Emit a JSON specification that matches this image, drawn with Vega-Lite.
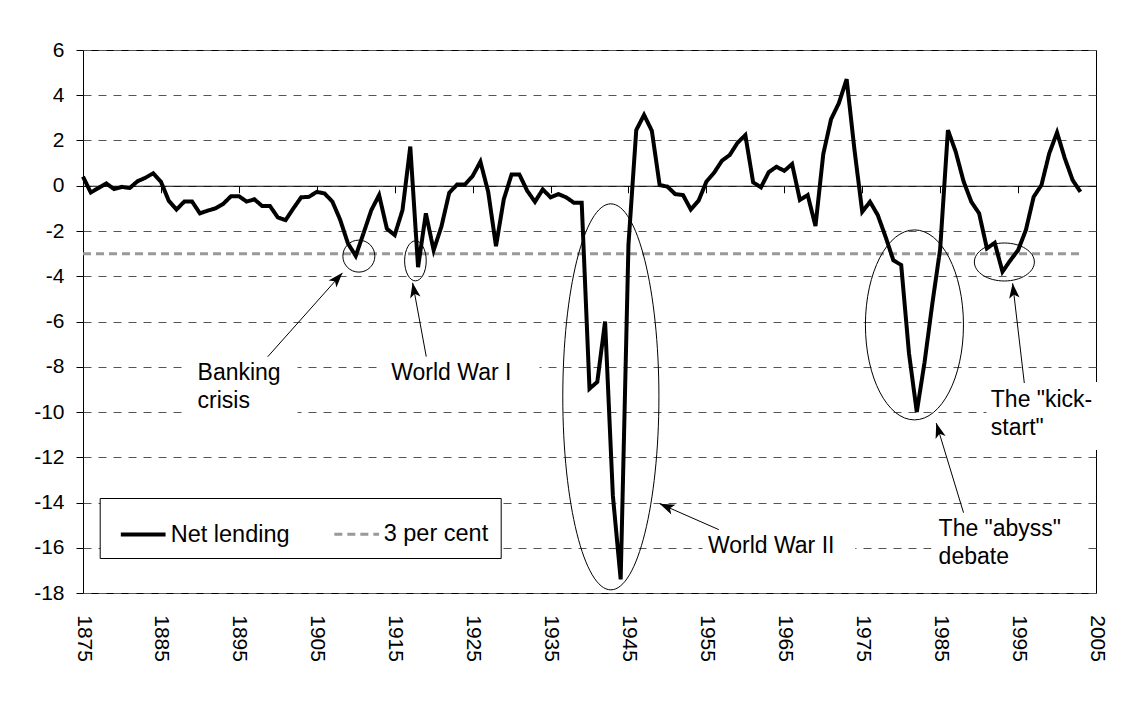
{
  "$schema": "https://vega.github.io/schema/vega-lite/v6.json",
  "width": 1013,
  "height": 543,
  "autosize": {"type": "none"},
  "padding": {"left": 83, "top": 50, "right": 39, "bottom": 122},
  "background": "white",
  "config": {"view": {"stroke": "#000", "strokeWidth": 1}, "font": "Liberation Sans"},
  "datasets": {
    "main": [
      {"year":1875,"net":0.4,"pct":-3},{"year":1876,"net":-0.3,"pct":-3},{"year":1877,"net":-0.1,"pct":-3},{"year":1878,"net":0.1,"pct":-3},{"year":1879,"net":-0.15,"pct":-3},
      {"year":1880,"net":-0.05,"pct":-3},{"year":1881,"net":-0.1,"pct":-3},{"year":1882,"net":0.2,"pct":-3},{"year":1883,"net":0.35,"pct":-3},{"year":1884,"net":0.55,"pct":-3},
      {"year":1885,"net":0.18,"pct":-3},{"year":1886,"net":-0.66,"pct":-3},{"year":1887,"net":-1.05,"pct":-3},{"year":1888,"net":-0.7,"pct":-3},{"year":1889,"net":-0.7,"pct":-3},
      {"year":1890,"net":-1.22,"pct":-3},{"year":1891,"net":-1.1,"pct":-3},{"year":1892,"net":-1.0,"pct":-3},{"year":1893,"net":-0.8,"pct":-3},{"year":1894,"net":-0.46,"pct":-3},
      {"year":1895,"net":-0.46,"pct":-3},{"year":1896,"net":-0.7,"pct":-3},{"year":1897,"net":-0.6,"pct":-3},{"year":1898,"net":-0.9,"pct":-3},{"year":1899,"net":-0.9,"pct":-3},
      {"year":1900,"net":-1.4,"pct":-3},{"year":1901,"net":-1.52,"pct":-3},{"year":1902,"net":-1.0,"pct":-3},{"year":1903,"net":-0.51,"pct":-3},{"year":1904,"net":-0.49,"pct":-3},
      {"year":1905,"net":-0.27,"pct":-3},{"year":1906,"net":-0.34,"pct":-3},{"year":1907,"net":-0.7,"pct":-3},{"year":1908,"net":-1.5,"pct":-3},{"year":1909,"net":-2.55,"pct":-3},
      {"year":1910,"net":-3.1,"pct":-3},{"year":1911,"net":-2.1,"pct":-3},{"year":1912,"net":-1.08,"pct":-3},{"year":1913,"net":-0.41,"pct":-3},{"year":1914,"net":-1.9,"pct":-3},
      {"year":1915,"net":-2.18,"pct":-3},{"year":1916,"net":-1.08,"pct":-3},{"year":1917,"net":1.73,"pct":-3},{"year":1918,"net":-3.6,"pct":-3},{"year":1919,"net":-1.22,"pct":-3},
      {"year":1920,"net":-2.85,"pct":-3},{"year":1921,"net":-1.8,"pct":-3},{"year":1922,"net":-0.31,"pct":-3},{"year":1923,"net":0.05,"pct":-3},{"year":1924,"net":0.05,"pct":-3},
      {"year":1925,"net":0.43,"pct":-3},{"year":1926,"net":1.06,"pct":-3},{"year":1927,"net":-0.27,"pct":-3},{"year":1928,"net":-2.67,"pct":-3},{"year":1929,"net":-0.6,"pct":-3},
      {"year":1930,"net":0.5,"pct":-3},{"year":1931,"net":0.5,"pct":-3},{"year":1932,"net":-0.22,"pct":-3},{"year":1933,"net":-0.71,"pct":-3},{"year":1934,"net":-0.16,"pct":-3},
      {"year":1935,"net":-0.51,"pct":-3},{"year":1936,"net":-0.37,"pct":-3},{"year":1937,"net":-0.51,"pct":-3},{"year":1938,"net":-0.75,"pct":-3},{"year":1939,"net":-0.75,"pct":-3},
      {"year":1940,"net":-8.97,"pct":-3},{"year":1941,"net":-8.67,"pct":-3},{"year":1942,"net":-6.0,"pct":-3},{"year":1943,"net":-13.7,"pct":-3},{"year":1944,"net":-17.4,"pct":-3},
      {"year":1945,"net":-2.6,"pct":-3},{"year":1946,"net":2.46,"pct":-3},{"year":1947,"net":3.13,"pct":-3},{"year":1948,"net":2.43,"pct":-3},{"year":1949,"net":0.03,"pct":-3},
      {"year":1950,"net":-0.04,"pct":-3},{"year":1951,"net":-0.37,"pct":-3},{"year":1952,"net":-0.41,"pct":-3},{"year":1953,"net":-1.05,"pct":-3},{"year":1954,"net":-0.66,"pct":-3},
      {"year":1955,"net":0.18,"pct":-3},{"year":1956,"net":0.58,"pct":-3},{"year":1957,"net":1.11,"pct":-3},{"year":1958,"net":1.36,"pct":-3},{"year":1959,"net":1.9,"pct":-3},
      {"year":1960,"net":2.24,"pct":-3},{"year":1961,"net":0.15,"pct":-3},{"year":1962,"net":-0.07,"pct":-3},{"year":1963,"net":0.6,"pct":-3},{"year":1964,"net":0.84,"pct":-3},
      {"year":1965,"net":0.66,"pct":-3},{"year":1966,"net":0.96,"pct":-3},{"year":1967,"net":-0.63,"pct":-3},{"year":1968,"net":-0.41,"pct":-3},{"year":1969,"net":-1.78,"pct":-3},
      {"year":1970,"net":1.4,"pct":-3},{"year":1971,"net":2.94,"pct":-3},{"year":1972,"net":3.65,"pct":-3},{"year":1973,"net":4.71,"pct":-3},{"year":1974,"net":1.6,"pct":-3},
      {"year":1975,"net":-1.15,"pct":-3},{"year":1976,"net":-0.71,"pct":-3},{"year":1977,"net":-1.3,"pct":-3},{"year":1978,"net":-2.26,"pct":-3},{"year":1979,"net":-3.3,"pct":-3},
      {"year":1980,"net":-3.5,"pct":-3},{"year":1981,"net":-7.4,"pct":-3},{"year":1982,"net":-10.0,"pct":-3},{"year":1983,"net":-7.8,"pct":-3},{"year":1984,"net":-5.2,"pct":-3},
      {"year":1985,"net":-2.8,"pct":-3},{"year":1986,"net":2.46,"pct":-3},{"year":1987,"net":1.5,"pct":-3},{"year":1988,"net":0.2,"pct":-3},{"year":1989,"net":-0.71,"pct":-3},
      {"year":1990,"net":-1.22,"pct":-3},{"year":1991,"net":-2.77,"pct":-3},{"year":1992,"net":-2.52,"pct":-3},{"year":1993,"net":-3.8,"pct":-3},{"year":1994,"net":-3.3,"pct":-3},
      {"year":1995,"net":-2.85,"pct":-3},{"year":1996,"net":-1.96,"pct":-3},{"year":1997,"net":-0.49,"pct":-3},{"year":1998,"net":0.03,"pct":-3},{"year":1999,"net":1.43,"pct":-3},
      {"year":2000,"net":2.35,"pct":-3},{"year":2001,"net":1.21,"pct":-3},{"year":2002,"net":0.25,"pct":-3},{"year":2003,"net":-0.27,"pct":-3}
    ],
    "labels": [
      {"t":"Banking\ncrisis","year":1889.7,"v":-8.58},
      {"t":"World War I","year":1914.56,"v":-8.58},
      {"t":"World War II","year":1955.2,"v":-16.23},
      {"t":"The \"abyss\"\ndebate","year":1984.8,"v":-15.5},
      {"t":"The \"kick-\nstart\"","year":1991.5,"v":-9.76}
    ],
    "boxes": [
      {"b":"bank","year":1888.43,"year2":1902.54,"v":-6.81,"v2":-10.57},
      {"b":"ww1","year":1913.45,"year2":1933.59,"v":-7.03,"v2":-9.46},
      {"b":"ww2","year":1954.5,"year2":1974.1,"v":-14.98,"v2":-17.32},
      {"b":"abyss","year":1983.87,"year2":2003.75,"v":-14.32,"v2":-17.32},
      {"b":"kick","year":1990.93,"year2":2005.4,"v":-8.67,"v2":-11.68}
    ],
    "ellipses": [
      {"e":"bank","year":1910.4,"v":-3.11},
      {"e":"ww1","year":1917.66,"v":-3.32},
      {"e":"ww2","year":1942.74,"v":-9.33},
      {"e":"abyss","year":1981.7,"v":-6.15},
      {"e":"kick","year":1993.24,"v":-3.37}
    ],
    "arrows": [
      {"a":"bank","year":1898.7,"v":-7.56,"year2":1908.3,"v2":-3.85},
      {"a":"ww1","year":1919.05,"v":-7.55,"year2":1917.3,"v2":-4.29},
      {"a":"ww2","year":1956.6,"v":-15.2,"year2":1949.0,"v2":-14.05},
      {"a":"abyss","year":1988.0,"v":-14.45,"year2":1984.5,"v2":-10.49},
      {"a":"kick","year":1995.8,"v":-8.72,"year2":1994.3,"v2":-4.31}
    ]
  },
  "layer": [
    {
      "data": {"name": "main"},
      "transform": [{"fold": ["pct", "net"], "as": ["series", "value"]}],
      "mark": {"type": "line", "strokeJoin": "miter", "strokeMiterLimit": 4},
      "encoding": {
        "x": {"field": "year", "type": "quantitative", "title": null,
          "scale": {"domain": [1875, 2005], "nice": false, "zero": false},
          "axis": {"values": [1875,1885,1895,1905,1915,1925,1935,1945,1955,1965,1975,1985,1995,2005],
            "format": "d", "labelAngle": 90, "labelFontSize": 21, "labelColor": "#000", "labelFont": "Liberation Sans",
            "offset": -407.25, "tickSize": 7, "tickColor": "#000", "labelPadding": 422,
            "domain": true, "domainColor": "#000", "domainWidth": 1, "grid": false, "labelOverlap": false, "labelFlush": false}},
        "y": {"field": "value", "type": "quantitative", "title": null,
          "scale": {"domain": [-18, 6], "nice": false, "zero": false},
          "axis": {"values": [-18,-16,-14,-12,-10,-8,-6,-4,-2,0,2,4,6], "labelFontSize": 21, "labelColor": "#000", "labelFont": "Liberation Sans",
            "labelExpr": "replace(datum.label, '−', '-')",
            "tickSize": 7, "tickColor": "#000", "labelPadding": 12, "domain": false,
            "grid": true, "gridColor": "#555", "gridDash": [8, 7], "gridWidth": 1}},
        "color": {"field": "series", "type": "nominal",
          "scale": {"domain": ["net", "pct"], "range": ["#000000", "#999999"]},
          "legend": {"orient": "none", "legendX": 16.7, "legendY": 448, "direction": "horizontal", "title": null,
            "padding": 12, "symbolOffset": 7, "strokeColor": "#000", "fillColor": "#fff", "labelFontSize": 23.5, "labelFont": "Liberation Sans",
            "labelColor": "#000", "symbolType": "stroke", "symbolSize": 2000, "labelOffset": 3, "columnPadding": 36,
            "labelExpr": "datum.label == 'net' ? 'Net lending' : '3 per cent'"}},
        "strokeDash": {"field": "series", "type": "nominal",
          "scale": {"domain": ["net", "pct"], "range": [[1, 0], [8, 5]]}},
        "strokeWidth": {"field": "series", "type": "nominal",
          "scale": {"domain": ["net", "pct"], "range": [4, 3]}}
      }
    },
    {
      "data": {"name": "boxes"},
      "mark": {"type": "rect", "color": "#fff", "opacity": 1},
      "encoding": {
        "x": {"field": "year", "type": "quantitative", "title": null},
        "y": {"field": "v", "type": "quantitative", "title": null},
        "x2": {"field": "year2"},
        "y2": {"field": "v2"}
      }
    },
    {
      "data": {"name": "arrows"},
      "mark": {"type": "rule", "color": "#000", "strokeWidth": 1},
      "encoding": {
        "x": {"field": "year", "type": "quantitative", "title": null},
        "y": {"field": "v", "type": "quantitative", "title": null},
        "x2": {"field": "year2"},
        "y2": {"field": "v2"}
      }
    },
    {
      "data": {"name": "arrows"},
      "transform": [{"filter": "datum.a == 'bank'"}],
      "mark": {"type": "point", "shape": "M0,0L-0.35,1L0,0.75L0.35,1Z", "size": 900, "angle": 41.8, "filled": true, "color": "#000", "opacity": 1},
      "encoding": {"x": {"field": "year2", "type": "quantitative", "title": null}, "y": {"field": "v2", "type": "quantitative", "title": null}}
    },
    {
      "data": {"name": "arrows"},
      "transform": [{"filter": "datum.a == 'ww1'"}],
      "mark": {"type": "point", "shape": "M0,0L-0.35,1L0,0.75L0.35,1Z", "size": 900, "angle": -10.5, "filled": true, "color": "#000", "opacity": 1},
      "encoding": {"x": {"field": "year2", "type": "quantitative", "title": null}, "y": {"field": "v2", "type": "quantitative", "title": null}}
    },
    {
      "data": {"name": "arrows"},
      "transform": [{"filter": "datum.a == 'ww2'"}],
      "mark": {"type": "point", "shape": "M0,0L-0.35,1L0,0.75L0.35,1Z", "size": 900, "angle": -66.4, "filled": true, "color": "#000", "opacity": 1},
      "encoding": {"x": {"field": "year2", "type": "quantitative", "title": null}, "y": {"field": "v2", "type": "quantitative", "title": null}}
    },
    {
      "data": {"name": "arrows"},
      "transform": [{"filter": "datum.a == 'abyss'"}],
      "mark": {"type": "point", "shape": "M0,0L-0.35,1L0,0.75L0.35,1Z", "size": 900, "angle": -16.9, "filled": true, "color": "#000", "opacity": 1},
      "encoding": {"x": {"field": "year2", "type": "quantitative", "title": null}, "y": {"field": "v2", "type": "quantitative", "title": null}}
    },
    {
      "data": {"name": "arrows"},
      "transform": [{"filter": "datum.a == 'kick'"}],
      "mark": {"type": "point", "shape": "M0,0L-0.35,1L0,0.75L0.35,1Z", "size": 900, "angle": -6.7, "filled": true, "color": "#000", "opacity": 1},
      "encoding": {"x": {"field": "year2", "type": "quantitative", "title": null}, "y": {"field": "v2", "type": "quantitative", "title": null}}
    },
    {
      "data": {"name": "ellipses"},
      "transform": [{"filter": "datum.e == 'bank'"}],
      "mark": {"type": "point", "shape": "M-1,0A1,1,0,1,0,1,0A1,1,0,1,0,-1,0Z", "size": 1024, "filled": false, "stroke": "#000", "strokeWidth": 1, "opacity": 1},
      "encoding": {"x": {"field": "year", "type": "quantitative", "title": null}, "y": {"field": "v", "type": "quantitative", "title": null}}
    },
    {
      "data": {"name": "ellipses"},
      "transform": [{"filter": "datum.e == 'ww1'"}],
      "mark": {"type": "point", "shape": "M-0.54,0A0.54,1,0,1,0,0.54,0A0.54,1,0,1,0,-0.54,0Z", "size": 1600, "filled": false, "stroke": "#000", "strokeWidth": 1, "opacity": 1},
      "encoding": {"x": {"field": "year", "type": "quantitative", "title": null}, "y": {"field": "v", "type": "quantitative", "title": null}}
    },
    {
      "data": {"name": "ellipses"},
      "transform": [{"filter": "datum.e == 'ww2'"}],
      "mark": {"type": "point", "shape": "M-0.249,0A0.249,1,0,1,0,0.249,0A0.249,1,0,1,0,-0.249,0Z", "size": 148996, "filled": false, "stroke": "#000", "strokeWidth": 1, "opacity": 1},
      "encoding": {"x": {"field": "year", "type": "quantitative", "title": null}, "y": {"field": "v", "type": "quantitative", "title": null}}
    },
    {
      "data": {"name": "ellipses"},
      "transform": [{"filter": "datum.e == 'abyss'"}],
      "mark": {"type": "point", "shape": "M-0.516,0A0.516,1,0,1,0,0.516,0A0.516,1,0,1,0,-0.516,0Z", "size": 36100, "filled": false, "stroke": "#000", "strokeWidth": 1, "opacity": 1},
      "encoding": {"x": {"field": "year", "type": "quantitative", "title": null}, "y": {"field": "v", "type": "quantitative", "title": null}}
    },
    {
      "data": {"name": "ellipses"},
      "transform": [{"filter": "datum.e == 'kick'"}],
      "mark": {"type": "point", "shape": "M-1,0A1,0.633,0,1,0,1,0A1,0.633,0,1,0,-1,0Z", "size": 3600, "filled": false, "stroke": "#000", "strokeWidth": 1, "opacity": 1},
      "encoding": {"x": {"field": "year", "type": "quantitative", "title": null}, "y": {"field": "v", "type": "quantitative", "title": null}}
    },
    {
      "data": {"name": "labels"},
      "mark": {"type": "text", "align": "left", "baseline": "alphabetic", "fontSize": 23, "font": "Liberation Sans", "lineBreak": "\n", "lineHeight": 28, "color": "#000"},
      "encoding": {
        "x": {"field": "year", "type": "quantitative", "title": null},
        "y": {"field": "v", "type": "quantitative", "title": null},
        "text": {"field": "t"}
      }
    }
  ]
}
